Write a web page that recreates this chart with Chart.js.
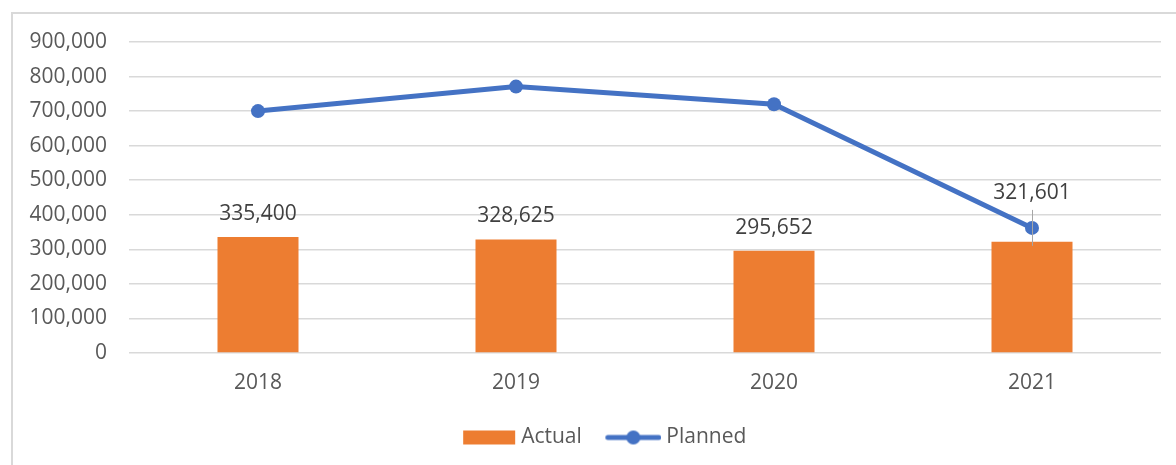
<!DOCTYPE html>
<html>
<head>
<meta charset="utf-8">
<script src="https://cdn.jsdelivr.net/npm/chart.js@4.4.0/dist/chart.umd.min.js"></script>
<style>
  html, body { margin: 0; padding: 0; background: #ffffff; }
  #wrap { position: relative; width: 1176px; height: 465px; overflow: hidden; }
  #frame { position: absolute; left: 11px; top: 12px; width: 1200px; height: 500px;
           border-left: 2px solid #d9d9d9; border-top: 2px solid #d9d9d9; box-sizing: border-box; }
  canvas { position: absolute; left: 0; top: 0; }
</style>
</head>
<body>
<div id="wrap">
  <div id="frame"></div>
  <canvas id="c" width="1176" height="465"></canvas>
</div>
<script>
const categories = ['2018', '2019', '2020', '2021'];
const actualValues = [335400, 328625, 295652, 321601];
const plannedValues = [700000, 771000, 720000, 362000];
const yTickMax = 900000;
const yTickStep = 100000;
const seriesNames = ['Actual', 'Planned'];

const ORANGE = '#ED7D31';
const BLUE = '#4472C4';
const FONT = '"Open Sans", "Noto Sans", sans-serif';
const FS = 21;

function fmt(v) { return v.toLocaleString('en-US'); }

// legend graphics (right-aligned inside a wider transparent canvas)
const ICON_W = 75, ICON_H = 16;
function makeBarIcon() {
  const c = document.createElement('canvas');
  c.width = ICON_W; c.height = ICON_H;
  const x = c.getContext('2d');
  x.fillStyle = ORANGE;
  x.fillRect(ICON_W - 53, 1, 52, 14);
  return c;
}
function makeLineIcon() {
  const c = document.createElement('canvas');
  c.width = ICON_W; c.height = ICON_H;
  const x = c.getContext('2d');
  x.strokeStyle = BLUE; x.lineWidth = 5; x.lineCap = 'round';
  const x0 = ICON_W - 56 + 2.5, x1 = ICON_W - 2.5;
  x.beginPath(); x.moveTo(x0, 8); x.lineTo(x1, 8); x.stroke();
  x.fillStyle = BLUE;
  x.beginPath(); x.arc((x0 + x1) / 2, 8, 7, 0, Math.PI * 2); x.fill();
  return c;
}
const barIcon = makeBarIcon();
const lineIcon = makeLineIcon();

const labelPlugin = {
  id: 'valueLabels',
  afterLayout(chart) {
    // centre the legend a little right of the canvas centre, as in the original
    if (chart.legend) { chart.legend.left += 32; }
  },
  afterDatasetsDraw(chart) {
    const ctx = chart.ctx;
    const barMeta = chart.getDatasetMeta(1);
    const lineMeta = chart.getDatasetMeta(0);
    ctx.save();
    ctx.font = FS + 'px ' + FONT;
    ctx.fillStyle = '#404040';
    ctx.textAlign = 'center';
    ctx.textBaseline = 'middle';
    barMeta.data.forEach((bar, i) => {
      const pt = lineMeta.data[i];
      let cy = bar.y - 23;
      // avoid colliding with the planned marker: lift label above it with leader line
      if (Math.abs(pt.y - cy) < 40) {
        cy = pt.y - 35;
        ctx.strokeStyle = '#a6a6a6';
        ctx.lineWidth = 1;
        ctx.beginPath();
        ctx.moveTo(Math.round(bar.x) + 0.5, cy + 17);
        ctx.lineTo(Math.round(bar.x) + 0.5, bar.y + 4);
        ctx.stroke();
      }
      ctx.fillText(fmt(actualValues[i]), bar.x, cy);
    });
    ctx.restore();
  }
};

new Chart(document.getElementById('c'), {
  data: {
    labels: categories,
    datasets: [
      {
        type: 'line',
        label: seriesNames[1],
        data: plannedValues,
        borderColor: BLUE,
        backgroundColor: BLUE,
        borderWidth: 5,
        pointRadius: 7,
        pointHoverRadius: 7,
        pointBackgroundColor: BLUE,
        pointBorderWidth: 0,
        tension: 0,
        order: 0
      },
      {
        type: 'bar',
        label: seriesNames[0],
        data: actualValues,
        backgroundColor: ORANGE,
        borderWidth: 0,
        categoryPercentage: 1,
        barPercentage: 0.314,
        order: 1
      }
    ]
  },
  options: {
    responsive: false,
    animation: false,
    devicePixelRatio: 1,
    layout: { padding: { left: 0, right: 15, top: 42, bottom: 7 } },
    scales: {
      x: {
        grid: { display: false, drawTicks: false },
        border: { display: false },
        ticks: { color: '#595959', font: { family: FONT, size: FS }, padding: 17 },
        afterFit(s) { s.height = 64; }
      },
      y: {
        min: 0, max: yTickMax,
        grid: { color: '#d9d9d9', lineWidth: 1.5, drawTicks: false },
        border: { display: false },
        ticks: {
          stepSize: yTickStep,
          color: '#595959',
          font: { family: FONT, size: FS },
          padding: 22,
          callback: v => fmt(v)
        },
        afterFit(s) { s.width = 129; }
      }
    },
    plugins: {
      tooltip: { enabled: false },
      legend: {
        position: 'bottom',
        labels: {
          usePointStyle: true,
          pointStyleWidth: 64,
          boxHeight: 14,
          padding: 10,
          color: '#595959',
          font: { family: FONT, size: FS },
          generateLabels(chart) {
            return [
              { text: seriesNames[0], pointStyle: barIcon, fillStyle: ORANGE, strokeStyle: ORANGE, lineWidth: 0, datasetIndex: 1, fontColor: '#595959' },
              { text: seriesNames[1], pointStyle: lineIcon, fillStyle: BLUE, strokeStyle: BLUE, lineWidth: 0, datasetIndex: 0, fontColor: '#595959' }
            ];
          }
        }
      }
    }
  },
  plugins: [labelPlugin]
});
</script>
</body>
</html>
